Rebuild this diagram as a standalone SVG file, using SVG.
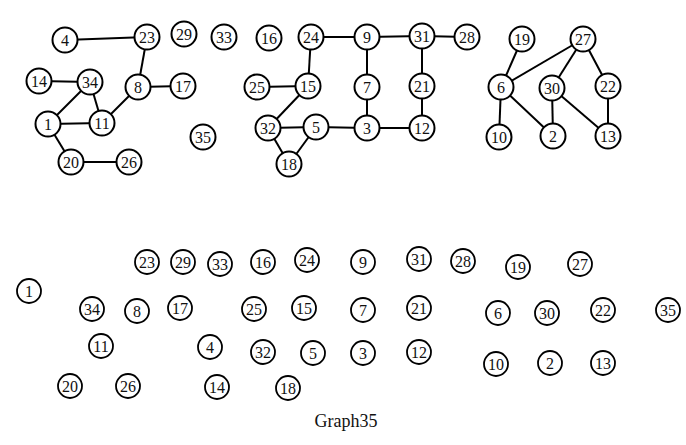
<svg xmlns="http://www.w3.org/2000/svg" width="686" height="445" viewBox="0 0 686 445">
<style>
.n circle{fill:#fff;stroke:#000;stroke-width:2}
.n text{font-family:"Liberation Serif",serif;font-size:16px;fill:#111;text-anchor:middle;dominant-baseline:central}
.b circle{stroke-width:1.8}
#edges line{stroke:#000;stroke-width:2}
.t{font-family:"Liberation Serif",serif;font-size:18px;fill:#111;text-anchor:middle}
</style>
<rect width="686" height="445" fill="#fff"/>
<g id="edges">
<line x1="65" y1="40" x2="147" y2="37"/>
<line x1="147" y1="37" x2="138" y2="87"/>
<line x1="138" y1="87" x2="183" y2="86"/>
<line x1="138" y1="87" x2="102" y2="123"/>
<line x1="39" y1="81" x2="90" y2="82"/>
<line x1="90" y1="82" x2="48" y2="124"/>
<line x1="90" y1="82" x2="102" y2="123"/>
<line x1="48" y1="124" x2="102" y2="123"/>
<line x1="48" y1="124" x2="71" y2="162"/>
<line x1="71" y1="162" x2="129" y2="162"/>
<line x1="311" y1="37" x2="367" y2="37"/>
<line x1="367" y1="37" x2="422" y2="36"/>
<line x1="422" y1="36" x2="467" y2="37"/>
<line x1="311" y1="37" x2="308" y2="86"/>
<line x1="257" y1="87" x2="308" y2="86"/>
<line x1="308" y1="86" x2="268" y2="128"/>
<line x1="367" y1="37" x2="367" y2="87"/>
<line x1="367" y1="87" x2="367" y2="128"/>
<line x1="422" y1="36" x2="422" y2="86"/>
<line x1="422" y1="86" x2="422" y2="128"/>
<line x1="268" y1="128" x2="316" y2="127"/>
<line x1="316" y1="127" x2="367" y2="128"/>
<line x1="367" y1="128" x2="422" y2="128"/>
<line x1="268" y1="128" x2="289" y2="164"/>
<line x1="316" y1="127" x2="289" y2="164"/>
<line x1="522" y1="39" x2="501" y2="87"/>
<line x1="583" y1="39" x2="501" y2="87"/>
<line x1="583" y1="39" x2="552" y2="88"/>
<line x1="583" y1="39" x2="608" y2="86"/>
<line x1="501" y1="87" x2="499" y2="137"/>
<line x1="501" y1="87" x2="553" y2="136"/>
<line x1="552" y1="88" x2="553" y2="136"/>
<line x1="552" y1="88" x2="608" y2="136"/>
<line x1="608" y1="86" x2="608" y2="136"/>
</g>
<g id="n4" class="n"><circle cx="65" cy="40" r="12.5"/><text x="65" y="40">4</text></g>
<g id="n23" class="n"><circle cx="147" cy="37" r="12.5"/><text x="147" y="37">23</text></g>
<g id="n29" class="n"><circle cx="184" cy="34" r="12.5"/><text x="184" y="34">29</text></g>
<g id="n33" class="n"><circle cx="224" cy="37" r="12.5"/><text x="224" y="37">33</text></g>
<g id="n14" class="n"><circle cx="39" cy="81" r="12.5"/><text x="39" y="81">14</text></g>
<g id="n34" class="n"><circle cx="90" cy="82" r="12.5"/><text x="90" y="82">34</text></g>
<g id="n8" class="n"><circle cx="138" cy="87" r="12.5"/><text x="138" y="87">8</text></g>
<g id="n17" class="n"><circle cx="183" cy="86" r="12.5"/><text x="183" y="86">17</text></g>
<g id="n1" class="n"><circle cx="48" cy="124" r="12.5"/><text x="48" y="124">1</text></g>
<g id="n11" class="n"><circle cx="102" cy="123" r="12.5"/><text x="102" y="123">11</text></g>
<g id="n35" class="n"><circle cx="203" cy="137" r="12.5"/><text x="203" y="137">35</text></g>
<g id="n20" class="n"><circle cx="71" cy="162" r="12.5"/><text x="71" y="162">20</text></g>
<g id="n26" class="n"><circle cx="129" cy="162" r="12.5"/><text x="129" y="162">26</text></g>
<g id="n16" class="n"><circle cx="269" cy="38" r="12.5"/><text x="269" y="38">16</text></g>
<g id="n24" class="n"><circle cx="311" cy="37" r="12.5"/><text x="311" y="37">24</text></g>
<g id="n9" class="n"><circle cx="367" cy="37" r="12.5"/><text x="367" y="37">9</text></g>
<g id="n31" class="n"><circle cx="422" cy="36" r="12.5"/><text x="422" y="36">31</text></g>
<g id="n28" class="n"><circle cx="467" cy="37" r="12.5"/><text x="467" y="37">28</text></g>
<g id="n25" class="n"><circle cx="257" cy="87" r="12.5"/><text x="257" y="87">25</text></g>
<g id="n15" class="n"><circle cx="308" cy="86" r="12.5"/><text x="308" y="86">15</text></g>
<g id="n7" class="n"><circle cx="367" cy="87" r="12.5"/><text x="367" y="87">7</text></g>
<g id="n21" class="n"><circle cx="422" cy="86" r="12.5"/><text x="422" y="86">21</text></g>
<g id="n32" class="n"><circle cx="268" cy="128" r="12.5"/><text x="268" y="128">32</text></g>
<g id="n5" class="n"><circle cx="316" cy="127" r="12.5"/><text x="316" y="127">5</text></g>
<g id="n3" class="n"><circle cx="367" cy="128" r="12.5"/><text x="367" y="128">3</text></g>
<g id="n12" class="n"><circle cx="422" cy="128" r="12.5"/><text x="422" y="128">12</text></g>
<g id="n18" class="n"><circle cx="289" cy="164" r="12.5"/><text x="289" y="164">18</text></g>
<g id="n19" class="n"><circle cx="522" cy="39" r="12.5"/><text x="522" y="39">19</text></g>
<g id="n27" class="n"><circle cx="583" cy="39" r="12.5"/><text x="583" y="39">27</text></g>
<g id="n6" class="n"><circle cx="501" cy="87" r="12.5"/><text x="501" y="87">6</text></g>
<g id="n30" class="n"><circle cx="552" cy="88" r="12.5"/><text x="552" y="88">30</text></g>
<g id="n22" class="n"><circle cx="608" cy="86" r="12.5"/><text x="608" y="86">22</text></g>
<g id="n10" class="n"><circle cx="499" cy="137" r="12.5"/><text x="499" y="137">10</text></g>
<g id="n2" class="n"><circle cx="553" cy="136" r="12.5"/><text x="553" y="136">2</text></g>
<g id="n13" class="n"><circle cx="608" cy="136" r="12.5"/><text x="608" y="136">13</text></g>
<g id="b23" class="n b"><circle cx="147" cy="262" r="12"/><text x="147" y="262">23</text></g>
<g id="b29" class="n b"><circle cx="183" cy="262" r="12"/><text x="183" y="262">29</text></g>
<g id="b33" class="n b"><circle cx="220" cy="264" r="12"/><text x="220" y="264">33</text></g>
<g id="b1" class="n b"><circle cx="29" cy="291" r="12"/><text x="29" y="291">1</text></g>
<g id="b34" class="n b"><circle cx="92" cy="309" r="12"/><text x="92" y="309">34</text></g>
<g id="b8" class="n b"><circle cx="137" cy="311" r="12"/><text x="137" y="311">8</text></g>
<g id="b17" class="n b"><circle cx="180" cy="308" r="12"/><text x="180" y="308">17</text></g>
<g id="b11" class="n b"><circle cx="101" cy="346" r="12"/><text x="101" y="346">11</text></g>
<g id="b4" class="n b"><circle cx="210" cy="347" r="12"/><text x="210" y="347">4</text></g>
<g id="b20" class="n b"><circle cx="70" cy="386" r="12"/><text x="70" y="386">20</text></g>
<g id="b26" class="n b"><circle cx="128" cy="386" r="12"/><text x="128" y="386">26</text></g>
<g id="b14" class="n b"><circle cx="217" cy="387" r="12"/><text x="217" y="387">14</text></g>
<g id="b16" class="n b"><circle cx="263" cy="262" r="12"/><text x="263" y="262">16</text></g>
<g id="b24" class="n b"><circle cx="307" cy="260" r="12"/><text x="307" y="260">24</text></g>
<g id="b9" class="n b"><circle cx="363" cy="262" r="12"/><text x="363" y="262">9</text></g>
<g id="b31" class="n b"><circle cx="419" cy="259" r="12"/><text x="419" y="259">31</text></g>
<g id="b28" class="n b"><circle cx="463" cy="261" r="12"/><text x="463" y="261">28</text></g>
<g id="b25" class="n b"><circle cx="254" cy="309" r="12"/><text x="254" y="309">25</text></g>
<g id="b15" class="n b"><circle cx="304" cy="308" r="12"/><text x="304" y="308">15</text></g>
<g id="b7" class="n b"><circle cx="363" cy="310" r="12"/><text x="363" y="310">7</text></g>
<g id="b21" class="n b"><circle cx="419" cy="308" r="12"/><text x="419" y="308">21</text></g>
<g id="b32" class="n b"><circle cx="263" cy="352" r="12"/><text x="263" y="352">32</text></g>
<g id="b5" class="n b"><circle cx="313" cy="353" r="12"/><text x="313" y="353">5</text></g>
<g id="b3" class="n b"><circle cx="363" cy="353" r="12"/><text x="363" y="353">3</text></g>
<g id="b12" class="n b"><circle cx="419" cy="352" r="12"/><text x="419" y="352">12</text></g>
<g id="b18" class="n b"><circle cx="288" cy="388" r="12"/><text x="288" y="388">18</text></g>
<g id="b19" class="n b"><circle cx="518" cy="267" r="12"/><text x="518" y="267">19</text></g>
<g id="b27" class="n b"><circle cx="580" cy="264" r="12"/><text x="580" y="264">27</text></g>
<g id="b6" class="n b"><circle cx="498" cy="313" r="12"/><text x="498" y="313">6</text></g>
<g id="b30" class="n b"><circle cx="547" cy="313" r="12"/><text x="547" y="313">30</text></g>
<g id="b22" class="n b"><circle cx="603" cy="310" r="12"/><text x="603" y="310">22</text></g>
<g id="b35" class="n b"><circle cx="668" cy="310" r="12"/><text x="668" y="310">35</text></g>
<g id="b10" class="n b"><circle cx="496" cy="364" r="12"/><text x="496" y="364">10</text></g>
<g id="b2" class="n b"><circle cx="550" cy="363" r="12"/><text x="550" y="363">2</text></g>
<g id="b13" class="n b"><circle cx="603" cy="363" r="12"/><text x="603" y="363">13</text></g>
<text class="t" x="346" y="427">Graph35</text>
</svg>
